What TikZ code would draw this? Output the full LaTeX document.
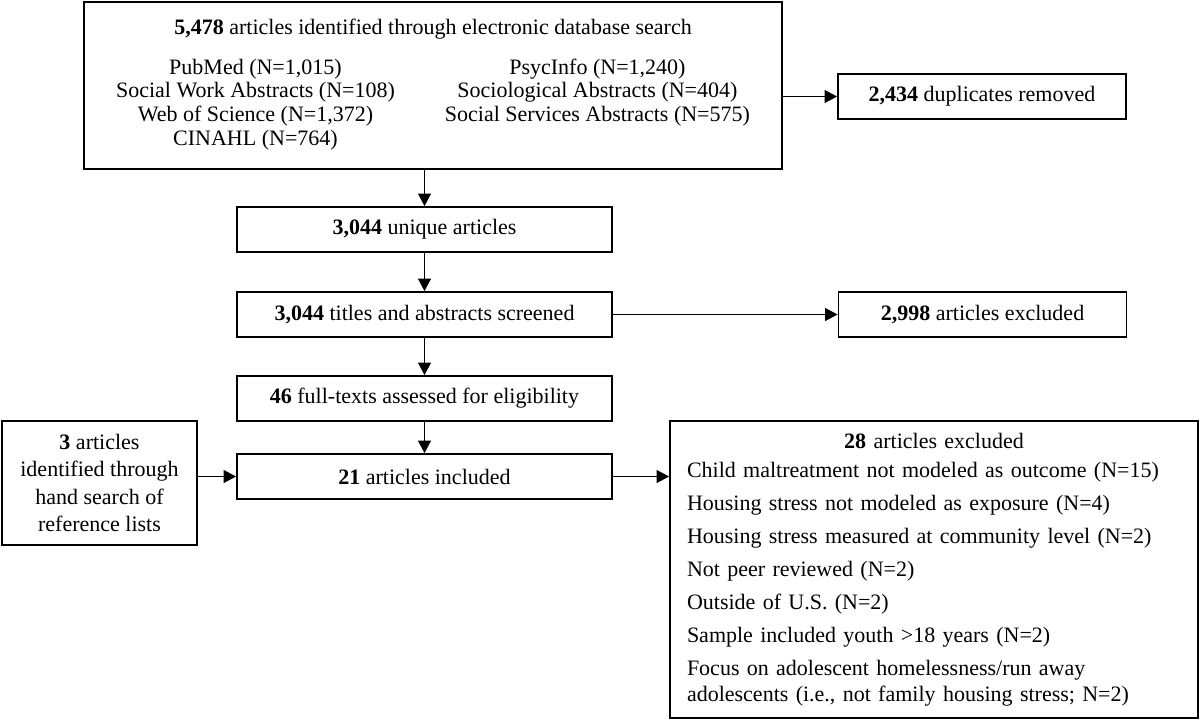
\documentclass[tikz,border=0pt]{standalone}
\usepackage{fontspec}
\setmainfont{Liberation Serif}
\usetikzlibrary{arrows.meta,positioning}

\begin{document}
\begin{tikzpicture}[x=0.5pt,y=-0.5pt,
	flowbox/.style={rectangle,draw,line width=0.9pt,inner sep=0pt,align=center,
		font=\fontsize{11}{13.6}\selectfont,minimum width=187.5pt,minimum height=22.5pt},
	sidebox/.style={flowbox,minimum width=144pt},
	listbox/.style={flowbox,align=left,text width=247pt,minimum width=264pt,
		minimum height=148.5pt,font=\fontsize{11}{13.25}\selectfont},
	arr/.style={-{Triangle[length=6.3pt,width=6.5pt]},line width=0.65pt}
]
\useasboundingbox (0,0) rectangle (1200,720);

% search
\node (db) [flowbox,minimum width=349pt,minimum height=83.5pt,font=\fontsize{11}{11.85}\selectfont] at (433,85.5)
  {\textbf{5,478} articles identified through electronic database search\\[8.15pt]
   \begin{tabular}[t]{@{}c@{\hspace{25pt}}c@{}}
   PubMed (N=1,015) & PsycInfo (N=1,240)\\
   Social Work Abstracts (N=108) & Sociological Abstracts (N=404)\\
   Web of Science (N=1,372) & Social Services Abstracts (N=575)\\
   CINAHL (N=764) &
   \end{tabular}\hspace{7pt}};
\node (dup) [sidebox] at (982,96.5) {\textbf{2,434} duplicates removed};

% screening
\node (uniq) [flowbox] at (424.5,229.5) {\textbf{3,044} unique articles};
\node (scr) [flowbox] at (424.5,314.5) {\textbf{3,044} titles and abstracts screened};
\node (excl) [sidebox] at (982.5,314.5) {\textbf{2,998} articles excluded};
\node (full) [flowbox] at (424.5,398.5) {\textbf{46} full-texts assessed for eligibility};
\node (incl) [flowbox] at (424.5,476.5) {\textbf{21} articles included};
\node (hand) [flowbox,minimum width=97.5pt,minimum height=62pt] at (99.5,483)
  {\textbf{3} articles\\identified through\\hand search of\\reference lists};
\node (why) [listbox] at (934,569.5)
  {\makebox[247pt]{\textbf{28} articles excluded}\\[1.25pt]
   Child maltreatment not modeled as outcome (N=15)\\[3.25pt]
   Housing stress not modeled as exposure (N=4)\\[3.25pt]
   Housing stress measured at community level (N=2)\\[3.25pt]
   Not peer reviewed (N=2)\\[3.25pt]
   Outside of U.S. (N=2)\\[3.25pt]
   Sample included youth >18 years (N=2)\\[3.25pt]
   Focus on adolescent homelessness/run away\\
   adolescents (i.e., not family housing stress; N=2)};

\draw[arr] (db.east |- dup.west) -- (dup.west);
\draw[arr] (db.south -| uniq.north) -- (uniq.north);
\draw[arr] (uniq) -- (scr);
\draw[arr] (scr) -- (excl);
\draw[arr] (scr) -- (full);
\draw[arr] (full) -- (incl);
\draw[arr] (hand.east |- incl.west) -- (incl.west);
\draw[arr] (incl.east) -- (incl.east -| why.west);
\end{tikzpicture}
\end{document}
